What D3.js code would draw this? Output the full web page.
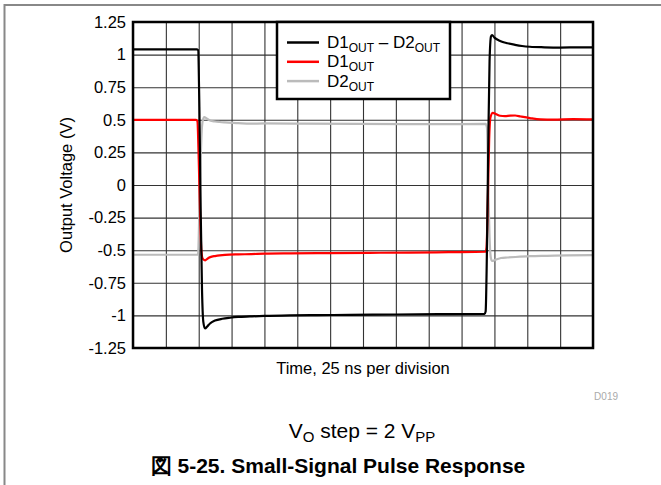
<!DOCTYPE html>
<html><head><meta charset="utf-8">
<script src="https://cdn.jsdelivr.net/npm/d3@7"></script>
<style>
html,body{margin:0;padding:0;background:#fff;}
svg{display:block;font-family:"Liberation Sans",Arial,sans-serif;}
</style></head>
<body>
<svg id="chart" width="661" height="485"></svg>
<script>
// ---- data (time in ns, voltage in V) ----
const timeTicks = [0,25,50,75,100,125,150,175,200,225,250,275,300,325,350];
const voltTicks = [1.25,1,0.75,0.5,0.25,0,-0.25,-0.5,-0.75,-1,-1.25];
const voltTickLabels = ["1.25","1","0.75","0.5","0.25","0","-0.25","-0.5","-0.75","-1","-1.25"];

const diffT = [0,48.5,49.5,50.5,51.5,52.5,53.5,54.8,56.5,58.6,62.4,68,73.8,80,89,100,120,140,165,200,240,267.5,268.3,269.3,270.3,271.3,272.4,273.2,275,279.3,285,290.7,296,302,313,325,340,350];
const diffV = [1.04,1.04,1.035,0.6,-0.2,-0.8,-1.05,-1.1,-1.085,-1.062,-1.04,-1.026,-1.018,-1.012,-1.008,-1.004,-1.0,-0.998,-0.996,-0.993,-0.99,-0.988,-0.97,-0.5,0.3,0.95,1.14,1.15,1.13,1.105,1.087,1.075,1.066,1.06,1.056,1.054,1.056,1.055];

const d1T = [0,48,49,50,51,52,53,54.8,56,58,60,62.4,66,70,80,90,100,120,150,180,210,240,268.3,269,270,271,272,273.8,276,279.3,283,287,290.7,295,302,310,320,335,350];
const d1V = [0.5,0.5,0.49,0.2,-0.2,-0.5,-0.565,-0.578,-0.57,-0.556,-0.549,-0.545,-0.54,-0.536,-0.532,-0.53,-0.526,-0.524,-0.522,-0.52,-0.518,-0.515,-0.512,-0.48,-0.1,0.35,0.52,0.553,0.545,0.531,0.528,0.532,0.533,0.525,0.513,0.503,0.501,0.505,0.503];

const d2T = [0,48.5,49.5,50.5,51.5,52.5,53.5,54.2,56,58.6,62.4,66,70,80,89,100,130,170,210,250,268.3,269.3,270.3,271.3,272.3,273.2,276,280,285,291,302,315,330,350];
const d2V = [-0.535,-0.535,-0.53,-0.2,0.2,0.45,0.51,0.52,0.51,0.495,0.487,0.483,0.48,0.475,0.47,0.472,0.47,0.468,0.467,0.467,0.468,0.44,0.0,-0.4,-0.56,-0.582,-0.572,-0.56,-0.556,-0.552,-0.546,-0.543,-0.54,-0.538];

const seriesNames = ["D1-D2", "D1", "D2"];
const seriesColors = ["#000000", "#ff0000", "#bbbbbb"];

// ---- layout ----
const svg = d3.select("#chart");
const L = 133, R = 593, T = 22, B = 348;
const x = d3.scaleLinear().domain([0,350]).range([L,R]);
const y = d3.scaleLinear().domain([-1.25,1.25]).range([B,T]);

// figure frame
svg.append("path").attr("d","M4.5,485V5H661").attr("fill","none").attr("stroke","#888").attr("stroke-width",2);

// grid via axes
const gy = svg.append("g").attr("transform",`translate(${L},0)`)
  .call(d3.axisLeft(y).tickValues(voltTicks).tickSize(-(R-L)).tickPadding(7)
    .tickFormat((d,i)=>voltTickLabels[i]));
gy.select(".domain").remove();
gy.selectAll(".tick line").attr("stroke","#333").attr("stroke-width",1.1);
gy.selectAll(".tick text").attr("font-size","16.5px").attr("fill","#000")
  .attr("font-family","Liberation Sans, Arial, sans-serif");

const gx = svg.append("g").attr("transform",`translate(0,${B})`)
  .call(d3.axisBottom(x).tickValues(timeTicks).tickSize(-(B-T)).tickFormat(""));
gx.select(".domain").remove();
gx.selectAll(".tick line").attr("stroke","#333").attr("stroke-width",1.1);

// clip
svg.append("clipPath").attr("id","clip").append("rect").attr("x",L).attr("y",T).attr("width",R-L).attr("height",B-T);

const line = d3.line().x(d=>x(d[0])).y(d=>y(d[1])).curve(d3.curveMonotoneX);
const mk = (ts,vs)=>ts.map((t,i)=>[t,vs[i]]);
const traces = [
  {data: mk(d2T,d2V), color: seriesColors[2]},
  {data: mk(d1T,d1V), color: seriesColors[1]},
  {data: mk(diffT,diffV), color: seriesColors[0]}
];
svg.append("g").attr("clip-path","url(#clip)").selectAll("path").data(traces).join("path")
  .attr("d",d=>line(d.data)).attr("fill","none").attr("stroke",d=>d.color)
  .attr("stroke-width",2.2).attr("stroke-linejoin","round");

// plot frame
svg.append("rect").attr("x",L).attr("y",T).attr("width",R-L).attr("height",B-T)
  .attr("fill","none").attr("stroke","#000").attr("stroke-width",2.5);

// legend
const lg = svg.append("g");
lg.append("rect").attr("x",277).attr("y",T).attr("width",173).attr("height",77)
  .attr("fill","#fff").attr("stroke","#000").attr("stroke-width",2.5);
const legendRows = [
  {color: seriesColors[0], parts: [["D1",0],["OUT",1],[" \u2013 D2",0],["OUT",1]]},
  {color: seriesColors[1], parts: [["D1",0],["OUT",1]]},
  {color: seriesColors[2], parts: [["D2",0],["OUT",1]]}
];
legendRows.forEach((r,i)=>{
  const ly = 42.5 + i*19.3;
  lg.append("line").attr("x1",287).attr("x2",319).attr("y1",ly).attr("y2",ly)
    .attr("stroke",r.color).attr("stroke-width",2.5);
  const t = lg.append("text").attr("x",327).attr("y",ly+5.5).attr("font-size","17px");
  r.parts.forEach(p=>{
    const ts = t.append("tspan").text(p[0]);
    if (p[1]) ts.attr("font-size","12px").attr("baseline-shift","-3.5px");
  });
});

// axis titles
svg.append("text").attr("transform",`translate(72,185) rotate(-90)`).attr("text-anchor","middle")
  .attr("font-size","16.5px").text("Output Voltage (V)");
svg.append("text").attr("x",363).attr("y",374).attr("text-anchor","middle")
  .attr("font-size","16.5px").text("Time, 25 ns per division");
svg.append("text").attr("x",618).attr("y",400).attr("text-anchor","end")
  .attr("font-size","10px").attr("fill","#aaa").text("D019");

const vt = svg.append("text").attr("x",362).attr("y",438).attr("text-anchor","middle").attr("font-size","21px");
vt.append("tspan").text("V");
vt.append("tspan").text("O").attr("font-size","15px").attr("baseline-shift","-4px");
vt.append("tspan").text(" step = 2 V");
vt.append("tspan").text("PP").attr("font-size","15px").attr("baseline-shift","-4px");

svg.append("text").attr("x",338).attr("y",473).attr("text-anchor","middle")
  .attr("font-size","21px").attr("font-weight","bold")
  .text("図 5-25. Small-Signal Pulse Response");
</script>
</body></html>
